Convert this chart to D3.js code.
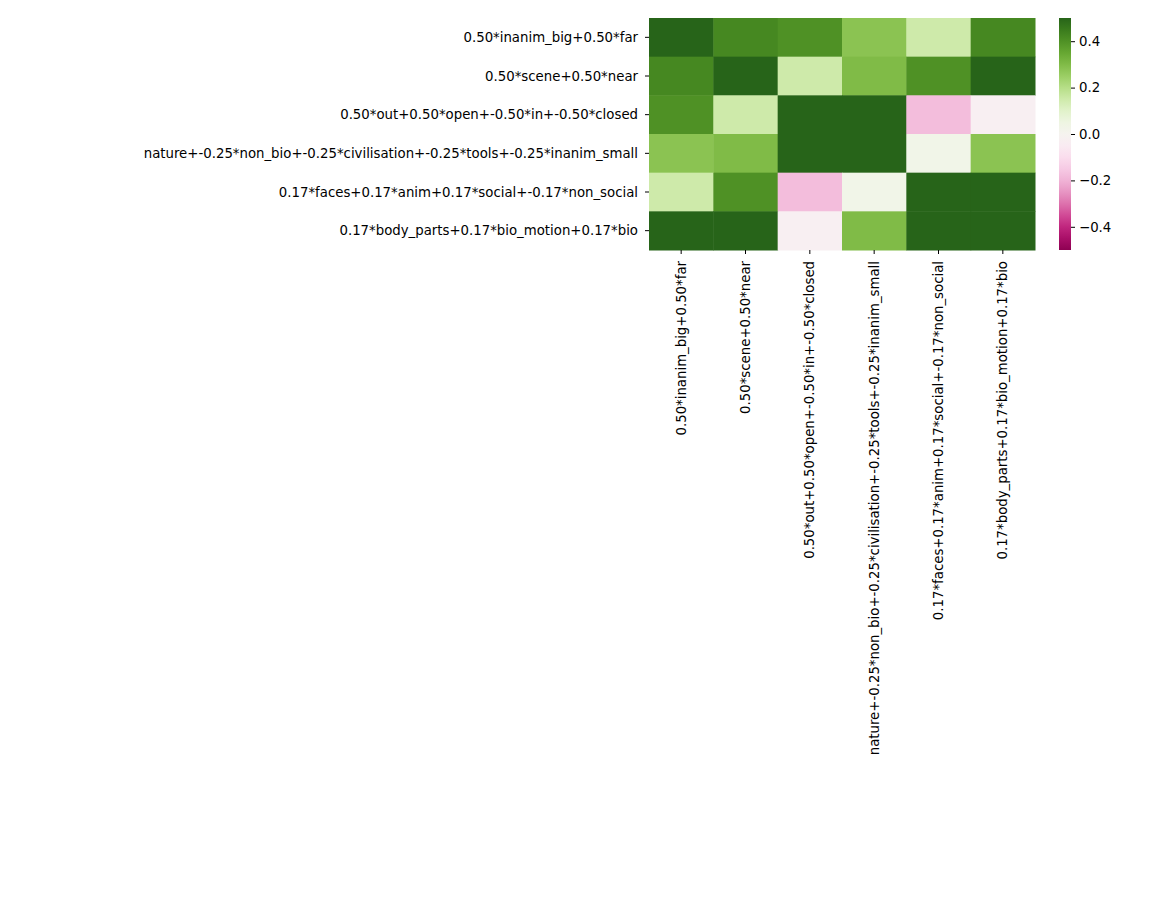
<!DOCTYPE html>
<html><head><meta charset="utf-8">
<script src="https://cdn.jsdelivr.net/npm/d3@7"></script>
<style>body{margin:0;background:#fff}text{font-family:"DejaVu Sans",sans-serif;font-size:13.3px;fill:#000}</style>
</head><body>
<svg id="c" width="1150" height="900"></svg>
<script>
const labels = [
  '0.50*inanim_big+0.50*far',
  '0.50*scene+0.50*near',
  '0.50*out+0.50*open+-0.50*in+-0.50*closed',
  'nature+-0.25*non_bio+-0.25*civilisation+-0.25*tools+-0.25*inanim_small',
  '0.17*faces+0.17*anim+0.17*social+-0.17*non_social',
  '0.17*body_parts+0.17*bio_motion+0.17*bio'
];
const values = [
  [0.50, 0.42, 0.40, 0.28, 0.15, 0.42],
  [0.42, 0.50, 0.15, 0.30, 0.40, 0.50],
  [0.40, 0.15, 0.50, 0.50, -0.18, -0.03],
  [0.28, 0.30, 0.50, 0.50, 0.03, 0.28],
  [0.15, 0.40, -0.18, 0.03, 0.50, 0.50],
  [0.50, 0.50, -0.03, 0.30, 0.50, 0.50]
];
const cbTicks = [-0.4, -0.2, 0.0, 0.2, 0.4];

const svg = d3.select('#c');
const mLeft = 649, mRight = 1035, mTop = 18, mBottom = 250;
const x = d3.scaleBand().domain(d3.range(6)).range([mLeft, mRight]);
const y = d3.scaleBand().domain(d3.range(6)).range([mTop, mBottom]);
const color = d3.scaleSequential(d3.interpolatePiYG).domain([-0.5, 0.5]).clamp(true);

const cells = values.flatMap((row, i) => row.map((v, j) => ({i, j, v})));
svg.selectAll('rect.cell').data(cells).join('rect')
  .attr('x', d => x(d.j)).attr('y', d => y(d.i))
  .attr('width', x.bandwidth() + 0.5).attr('height', y.bandwidth() + 0.5)
  .attr('fill', d => color(d.v));

// row labels
svg.selectAll('text.row').data(labels).join('text')
  .attr('x', mLeft - 11).attr('y', (d, i) => y(i) + y.bandwidth() / 2)
  .attr('dy', '0.35em').attr('text-anchor', 'end').text(d => d);
svg.selectAll('line.rt').data(labels).join('line')
  .attr('x1', mLeft - 4).attr('x2', mLeft)
  .attr('y1', (d, i) => y(i) + y.bandwidth() / 2).attr('y2', (d, i) => y(i) + y.bandwidth() / 2)
  .attr('stroke', '#000');

// column labels
svg.selectAll('text.col').data(labels).join('text')
  .attr('transform', (d, i) => `translate(${x(i) + x.bandwidth() / 2},${mBottom + 11}) rotate(-90)`)
  .attr('dy', '0.35em').attr('text-anchor', 'end').text(d => d);
svg.selectAll('line.ct').data(labels).join('line')
  .attr('y1', mBottom).attr('y2', mBottom + 4)
  .attr('x1', (d, i) => x(i) + x.bandwidth() / 2).attr('x2', (d, i) => x(i) + x.bandwidth() / 2)
  .attr('stroke', '#000');

// colorbar
const cbX = 1059, cbW = 12;
const cy = d3.scaleLinear().domain([-0.5, 0.5]).range([mBottom, mTop]);
const defs = svg.append('defs');
const grad = defs.append('linearGradient').attr('id', 'g').attr('x1', 0).attr('y1', 1).attr('x2', 0).attr('y2', 0);
d3.range(0, 1.0001, 0.05).forEach(t => grad.append('stop').attr('offset', t).attr('stop-color', d3.interpolatePiYG(t)));
svg.append('rect').attr('x', cbX).attr('y', mTop).attr('width', cbW).attr('height', mBottom - mTop).attr('fill', 'url(#g)');
svg.append('g').attr('transform', `translate(${cbX + cbW},0)`)
  .call(d3.axisRight(cy).tickValues(cbTicks).tickFormat(d3.format('.1f')).tickSize(4).tickPadding(4))
  .call(g => g.select('.domain').remove())
  .call(g => g.selectAll('text').style('font-size', '13.3px').style('font-family', '"DejaVu Sans",sans-serif'));
</script>
</body></html>
